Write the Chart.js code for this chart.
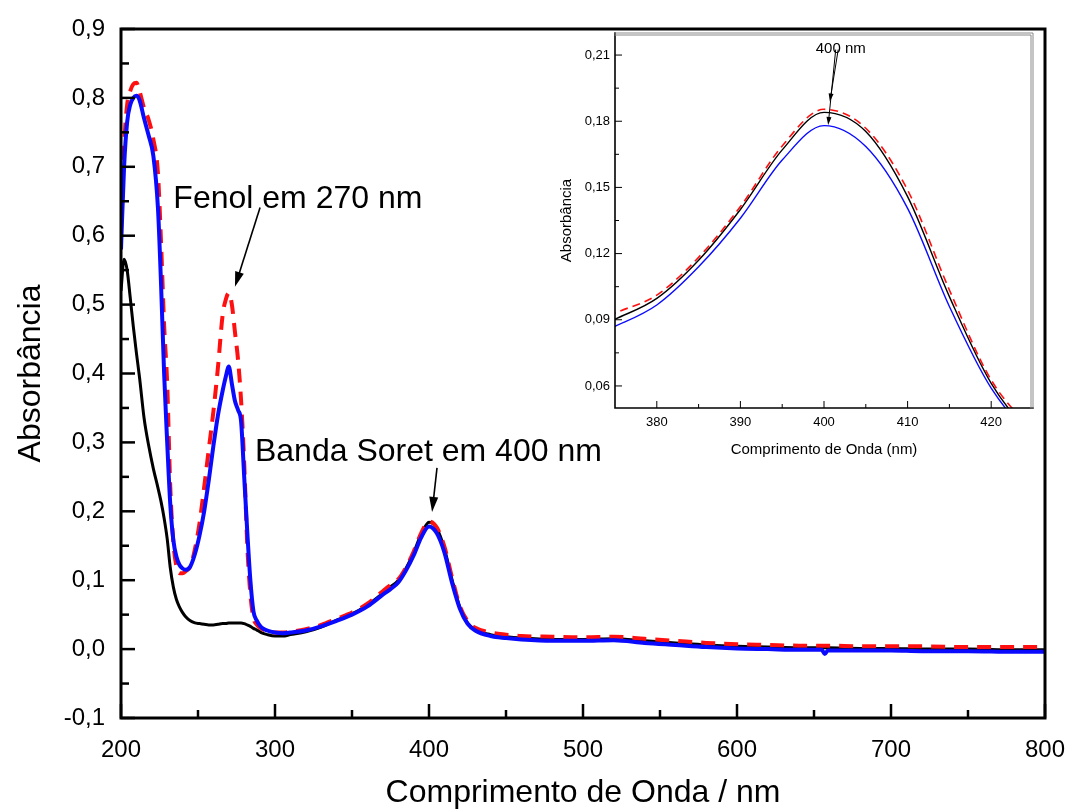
<!DOCTYPE html>
<html lang="pt">
<head>
<meta charset="UTF-8">
<title>Espectro UV-Vis</title>
<script src="https://cdn.jsdelivr.net/npm/chart.js"></script>
<style>
  html, body { margin: 0; padding: 0; background: #fff; }
  #wrap { position: relative; width: 1069px; height: 810px; }
  #main { position: absolute; left: 0; top: 0; }
  #inset { position: absolute; left: 550px; top: 30px; }
</style>
</head>
<body>
<div id="wrap">
  <canvas id="main" width="1069" height="810"></canvas>
  <canvas id="inset" width="490" height="440"></canvas>
</div>
<script>
// wavelength grid (nm) shared by the three spectra
const wavelength = [
  200, 202, 204, 206, 208, 210, 212, 215, 218, 221, 224, 226, 228, 230, 232, 234,
  236, 238, 240, 242, 245, 248, 251, 254, 257, 260, 263, 266, 268, 270, 272, 274,
  276, 278, 280, 282, 284, 286, 288, 291, 295, 300, 305, 310, 320, 330, 340, 350,
  360, 370, 375, 380, 385, 390, 395, 400, 405, 410, 415, 420, 425, 430, 440, 450,
  460, 480, 500, 520, 540, 560, 580, 600, 620, 640, 655, 657, 659, 680, 700, 720,
  750, 780, 800
];

// black solid
const absBlack = [
  0.520, 0.566, 0.550, 0.510, 0.468, 0.430, 0.395, 0.335, 0.295, 0.262, 0.234, 0.214, 0.190, 0.160, 0.118, 0.090,
  0.072, 0.061, 0.053, 0.047, 0.041, 0.038, 0.037, 0.036, 0.035, 0.035, 0.036, 0.037, 0.037, 0.038, 0.038, 0.038,
  0.038, 0.038, 0.037, 0.035, 0.033, 0.030, 0.028, 0.024, 0.021, 0.019, 0.019, 0.021, 0.025, 0.032, 0.042, 0.051,
  0.064, 0.081, 0.0902, 0.0997, 0.117, 0.140, 0.167, 0.184, 0.1753, 0.1458, 0.1005, 0.0612, 0.038, 0.028, 0.021, 0.018,
  0.016, 0.014, 0.014, 0.015, 0.012, 0.009, 0.006, 0.004, 0.003, 0.002, 0.002, 0.002, 0.002, 0.001, 0.001, 0.000,
  0.000, -0.001, -0.001
];

// red dashed
const absRed = [
  0.610, 0.730, 0.790, 0.810, 0.820, 0.822, 0.810, 0.785, 0.768, 0.740, 0.690, 0.590, 0.470, 0.385, 0.235, 0.155,
  0.120, 0.110, 0.110, 0.113, 0.120, 0.145, 0.183, 0.235, 0.290, 0.345, 0.410, 0.485, 0.507, 0.517, 0.500, 0.460,
  0.420, 0.360, 0.270, 0.150, 0.080, 0.045, 0.036, 0.030, 0.026, 0.024, 0.024, 0.025, 0.029, 0.035, 0.044, 0.053,
  0.066, 0.084, 0.093, 0.1012, 0.1183, 0.1413, 0.1688, 0.1854, 0.1768, 0.1488, 0.1035, 0.0627, 0.041, 0.031, 0.024, 0.021,
  0.019, 0.018, 0.017, 0.018, 0.015, 0.012, 0.009, 0.007, 0.006, 0.005, 0.005, 0.005, 0.005, 0.004, 0.004, 0.004,
  0.003, 0.003, 0.003
];

// blue solid
const absBlue = [
  0.580, 0.700, 0.765, 0.790, 0.800, 0.803, 0.797, 0.770, 0.745, 0.716, 0.640, 0.530, 0.400, 0.300, 0.210, 0.158,
  0.134, 0.122, 0.117, 0.115, 0.120, 0.138, 0.165, 0.200, 0.245, 0.295, 0.340, 0.375, 0.395, 0.410, 0.385, 0.360,
  0.347, 0.330, 0.250, 0.170, 0.100, 0.055, 0.042, 0.032, 0.027, 0.024, 0.023, 0.024, 0.027, 0.033, 0.041, 0.050,
  0.062, 0.079, 0.087, 0.0967, 0.114, 0.136, 0.1624, 0.178, 0.1685, 0.1405, 0.096, 0.059, 0.037, 0.027, 0.019, 0.016,
  0.014, 0.012, 0.012, 0.013, 0.009, 0.006, 0.003, 0.001, 0.000, -0.001, -0.001, -0.007, -0.002, -0.002, -0.002, -0.003,
  -0.003, -0.004, -0.004
];

// axis ticks (major carry a label, minor are bare marks)
const mainXMajor = [200, 300, 400, 500, 600, 700, 800];
const mainXMinor = [250, 350, 450, 550, 650, 750];
const mainYMajor = [-0.1, 0, 0.1, 0.2, 0.3, 0.4, 0.5, 0.6, 0.7, 0.8, 0.9];
const mainYMinor = [-0.05, 0.05, 0.15, 0.25, 0.35, 0.45, 0.55, 0.65, 0.75, 0.85];
const insetXMajor = [380, 390, 400, 410, 420];
const insetXMinor = [385, 395, 405, 415];
const insetYMajor = [0.06, 0.09, 0.12, 0.15, 0.18, 0.21];
const insetYMinor = [0.075, 0.105, 0.135, 0.165, 0.195];

const FONT = 'Arial, "Liberation Sans", sans-serif';

const r3 = v => Math.round(v * 1000) / 1000;
const comma = (v, d) => v.toFixed(d).replace('.', ',');

function series(values) {
  return wavelength.map((x, i) => ({ x, y: values[i] }));
}

function datasets(thin) {
  return [
    { label: 'azul', data: series(absBlue), borderColor: '#0a0aff', borderWidth: thin ? 1.4 : 4, order: 1 },
    { label: 'vermelho', data: series(absRed), borderColor: '#ff1010', borderWidth: thin ? 1.6 : 4,
      borderDash: thin ? [8, 5] : [14, 9], order: 2 },
    { label: 'preto', data: series(absBlack), borderColor: '#000', borderWidth: thin ? 1.4 : 3, order: 3 }
  ];
}

function arrow(ctx, x1, y1, x2, y2, head, half) {
  const a = Math.atan2(y2 - y1, x2 - x1);
  const c = Math.cos(a), s = Math.sin(a);
  ctx.beginPath();
  ctx.moveTo(x1, y1);
  ctx.lineTo(x2 - head * 0.7 * c, y2 - head * 0.7 * s);
  ctx.stroke();
  ctx.beginPath();
  ctx.moveTo(x2, y2);
  ctx.lineTo(x2 - head * c + half * s, y2 - head * s - half * c);
  ctx.lineTo(x2 - head * c - half * s, y2 - head * s + half * c);
  ctx.closePath();
  ctx.fill();
}

// box around the plot area plus inward tick marks
function frameTicks(cfg) {
  return {
    id: 'frameTicks',
    afterDraw(chart) {
      const { ctx, chartArea: a, scales: { x, y } } = chart;
      ctx.save();
      ctx.strokeStyle = '#000';
      ctx.lineWidth = cfg.tickWidth;
      x.ticks.forEach(t => {
        const px = x.getPixelForValue(t.value);
        const len = cfg.xMajor.includes(r3(t.value)) ? cfg.major : cfg.minor;
        ctx.beginPath(); ctx.moveTo(px, a.bottom); ctx.lineTo(px, a.bottom - len); ctx.stroke();
      });
      y.ticks.forEach(t => {
        const py = y.getPixelForValue(t.value);
        const len = cfg.yMajor.includes(r3(t.value)) ? cfg.major : cfg.minor;
        ctx.beginPath(); ctx.moveTo(a.left, py); ctx.lineTo(a.left + len, py); ctx.stroke();
      });
      ctx.lineWidth = cfg.frameWidth;
      ctx.lineCap = 'square';
      if (cfg.softTopRight) {
        ctx.beginPath();
        ctx.moveTo(a.left, a.top); ctx.lineTo(a.left, a.bottom); ctx.lineTo(a.right, a.bottom);
        ctx.stroke();
        ctx.strokeStyle = '#8a8a8a';
        ctx.lineWidth = 1;
        [0, 2].forEach(o => {
          ctx.beginPath();
          ctx.moveTo(a.left, a.top + o); ctx.lineTo(a.right - o, a.top + o); ctx.lineTo(a.right - o, a.bottom);
          ctx.stroke();
        });
      } else {
        ctx.strokeRect(a.left, a.top, a.right - a.left, a.bottom - a.top);
      }
      ctx.restore();
    }
  };
}

// text notes and arrows, placed in data units
function notes(cfg) {
  return {
    id: 'notes',
    afterDatasetsDraw(chart) {
      const { ctx, scales: { x, y } } = chart;
      ctx.save();
      ctx.fillStyle = '#000';
      ctx.strokeStyle = '#000';
      ctx.font = cfg.font;
      ctx.textBaseline = 'alphabetic';
      cfg.labels.forEach(l => {
        ctx.textAlign = l.align;
        ctx.fillText(l.text, x.getPixelForValue(l.x), y.getPixelForValue(l.y));
      });
      ctx.lineWidth = cfg.lineWidth;
      cfg.arrows.forEach(p => arrow(ctx,
        x.getPixelForValue(p[0]), y.getPixelForValue(p[1]),
        x.getPixelForValue(p[2]), y.getPixelForValue(p[3]), cfg.head, cfg.half));
      ctx.restore();
    }
  };
}

function axis(min, max, major, minor, digits, opts) {
  const all = major.concat(minor).sort((a, b) => a - b);
  return {
    type: 'linear', min, max,
    afterBuildTicks: s => { s.ticks = all.map(v => ({ value: v })); },
    afterFit: s => {
      opts.fit(s);
      // end labels may overhang; the layout padding already leaves room
      s.paddingLeft = s.paddingRight = s.paddingTop = s.paddingBottom = 0;
    },
    grid: { display: false, drawTicks: false },
    border: { display: false },
    ticks: {
      autoSkip: false, maxRotation: 0, color: '#000', padding: opts.pad,
      font: opts.tickFont,
      callback: v => major.includes(r3(v)) ? comma(v, digits) : ''
    },
    title: { display: true, text: opts.title, color: '#000', font: opts.titleFont, padding: opts.titlePad }
  };
}

const common = {
  responsive: false,
  animation: false,
  devicePixelRatio: 1,
  events: [],
  elements: { point: { radius: 0 }, line: { cubicInterpolationMode: 'monotone', borderCapStyle: 'butt' } },
  plugins: { legend: { display: false }, tooltip: { enabled: false } }
};

new Chart(document.getElementById('main'), {
  type: 'line',
  data: { datasets: datasets(false) },
  options: {
    ...common,
    layout: { padding: { top: 29, right: 24, left: 0, bottom: 0 } },
    scales: {
      x: axis(200, 800, mainXMajor, mainXMinor, 0, {
        fit: s => { s.height = 92; }, pad: 18,
        tickFont: { family: FONT, size: 24 },
        title: 'Comprimento de Onda / nm', titleFont: { family: FONT, size: 32 },
        titlePad: { top: 0, bottom: -2 }
      }),
      y: axis(-0.1, 0.9, mainYMajor, mainYMinor, 1, {
        fit: s => { s.width = 121; }, pad: 16,
        tickFont: { family: FONT, size: 24 },
        title: 'Absorbância', titleFont: { family: FONT, size: 32 },
        titlePad: { top: 12, bottom: 0 }
      })
    }
  },
  plugins: [
    frameTicks({ xMajor: mainXMajor, yMajor: mainYMajor, major: 14, minor: 8, tickWidth: 2.5, frameWidth: 3 }),
    notes({
      font: '32px ' + FONT, lineWidth: 1.6, head: 15, half: 4.5,
      labels: [
        { text: 'Fenol em 270 nm', x: 234, y: 0.6395, align: 'left' },
        { text: 'Banda Soret em 400 nm', x: 287, y: 0.2737, align: 'left' }
      ],
      arrows: [
        [290.3, 0.641, 274.0, 0.526],
        [405.2, 0.263, 402.0, 0.199]
      ]
    })
  ]
});

new Chart(document.getElementById('inset'), {
  type: 'line',
  data: { datasets: datasets(true) },
  options: {
    ...common,
    layout: { padding: { top: 3, right: 7, left: 0, bottom: 0 } },
    scales: {
      x: axis(375, 425, insetXMajor, insetXMinor, 0, {
        fit: s => { s.height = 62; }, pad: 7,
        tickFont: { family: FONT, size: 13 },
        title: 'Comprimento de Onda (nm)', titleFont: { family: FONT, size: 15 },
        titlePad: { top: 0, bottom: 11 }
      }),
      y: axis(0.05, 0.22, insetYMajor, insetYMinor, 2, {
        fit: s => { s.width = 65; }, pad: 5,
        tickFont: { family: FONT, size: 13 },
        title: 'Absorbância', titleFont: { family: FONT, size: 15 },
        titlePad: { top: 8, bottom: 0 }
      })
    }
  },
  plugins: [
    frameTicks({ xMajor: insetXMajor, yMajor: insetYMajor, major: 7, minor: 4, tickWidth: 1, frameWidth: 1.6, softTopRight: true }),
    notes({
      font: '15px ' + FONT, lineWidth: 1, head: 8, half: 2.5,
      labels: [{ text: '400 nm', x: 402.0, y: 0.2110, align: 'center' }],
      arrows: [
        [401.7, 0.2125, 400.7, 0.1889],
        [401.4, 0.2125, 400.5, 0.1783]
      ]
    })
  ]
});
</script>
</body>
</html>
